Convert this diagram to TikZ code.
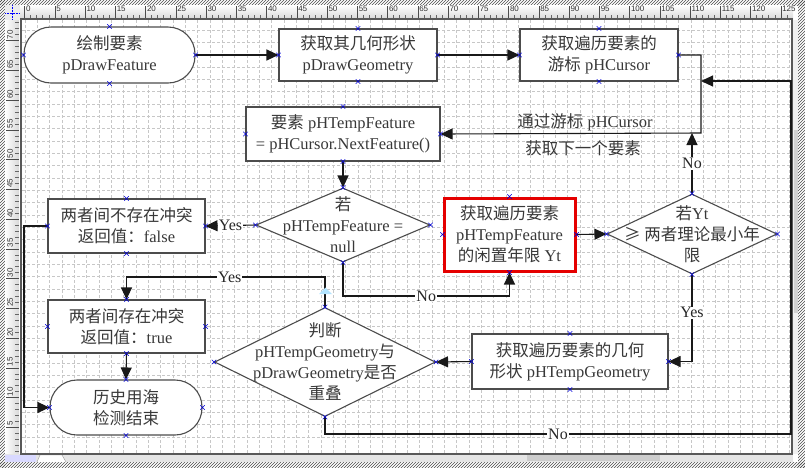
\documentclass[tikz,border=0pt]{standalone}
\usepackage{fontspec}
\setmainfont{Liberation Serif}
\newfontfamily\cjk{Noto Sans CJK SC}
\newfontfamily\rulfont{Liberation Sans}
\usetikzlibrary{arrows.meta,shapes.geometric,shapes.misc,patterns}
\newcommand\zh[1]{{\cjk #1}}
\begin{document}
\begin{tikzpicture}[x=1pt,y=-1pt,
  txtfont/.style={font=\fontsize{16.5}{21}\selectfont, text=black!78, align=center},
  proc/.style={rectangle, draw=black!70, line width=1.1pt, fill=white, inner sep=0pt, txtfont},
  term/.style={proc, rounded corners=27pt},
  dia/.style={diamond, draw=black!70, line width=1.1pt, fill=white, inner sep=0pt},
  dtext/.style={txtfont, inner sep=0pt},
  conn/.style={line width=1.1pt, draw=black!90},
  arr/.style={conn, -{Triangle[length=12pt,width=11pt]}},
  lab/.style={fill=white, inner sep=1pt, font=\fontsize{16}{18}\selectfont, text=black!85},
  note/.style={txtfont, inner sep=0pt},
  mk/.style={cross out, draw=blue!85!black, line width=0.5pt, minimum size=4pt, inner sep=0pt},
  gridl/.style={draw=black!22, line width=0.6pt, dash pattern=on 3pt off 2pt},
  rul/.style={font=\rulfont\fontsize{8}{8}\selectfont, text=black!80, inner sep=0.5pt}]
\useasboundingbox (0,0) rectangle (805,467);
% ---- window chrome ----
\fill[white] (0,0) rectangle (805,467);
\fill[pattern=north east lines, pattern color=black!70] (0,0) rectangle (805,5);
\fill[pattern=north east lines, pattern color=black!70] (0,0) rectangle (5,467);
\fill[pattern=north east lines, pattern color=black!70] (798,0) rectangle (805,467);
\fill[pattern=north east lines, pattern color=black!70] (0,462) rectangle (805,467);
\shade[top color=white, bottom color=black!15] (20,5) rectangle (793,19);
\shade[left color=white, right color=black!15] (5,20) rectangle (19,454);
\fill[black!8] (5,5) rectangle (20,20);
\draw[blue, densely dotted, line width=0.5pt] (5,13) -- (20,13) (12,5) -- (12,20);
\foreach \v in {0,...,126} {
  \pgfmathsetmacro\xx{24.5+6.05*\v}
  \pgfmathtruncatemacro\m{mod(\v,5)}
  \ifnum\m=0 \draw[black!70, line width=0.4pt] (\xx,6) -- (\xx,19);
  \else \draw[black!60, line width=0.4pt] (\xx,15) -- (\xx,19); \fi
}
\foreach \v in {0,5,...,125} \node[rul, anchor=north west] at ({24.5+6.05*\v+0.8},5.5) {\v};
\foreach \v in {0,...,73} {
  \pgfmathsetmacro\yy{457-5.95*\v}
  \pgfmathtruncatemacro\m{mod(\v,5)}
  \ifnum\m=0 \draw[black!70, line width=0.4pt] (6,\yy) -- (19,\yy);
  \else \draw[black!60, line width=0.4pt] (15,\yy) -- (19,\yy); \fi
}
\foreach \v in {5,10,...,70} \node[rul, rotate=90, anchor=west] at (10,{457-5.95*\v-0.8}) {\v};
% bottom bar and scroll bars
\fill[black!10] (5,454) rectangle (793,462);
\fill[blue!15] (5,455) rectangle (36,462);
\draw[black!40, fill=white] (37,462) -- (40,455) -- (62,455) -- (66,462);
\fill[black!20] (527,455) rectangle (660,461);
\fill[black!6] (793,20) rectangle (798,454);
\fill[black!18] (794,130) rectangle (798,313);
% page
\fill[white] (22,20) rectangle (791,453);
\begin{scope}
\clip (22,20) rectangle (791,453);
\foreach \k in {0,...,62} \draw[gridl] ({25+12.33*\k},20) -- ({25+12.33*\k},453);
\foreach \k in {0,...,35} \draw[gridl] (22,{437-12.33*\k}) -- (791,{437-12.33*\k});
\end{scope}
\draw[black!65, line width=2.5pt] (21,19) rectangle (792,454);
% ---- nodes ----
\node[term, minimum width=171pt, minimum height=56pt] (s1) at (109.5,55) {\zh{绘制要素}\\pDrawFeature};
\node[proc, minimum width=158pt, minimum height=52pt] (n2) at (358,55) {\zh{获取其几何形状}\\pDrawGeometry};
\node[proc, minimum width=158pt, minimum height=52pt] (n3) at (599,55) {\zh{获取遍历要素的}\\\zh{游标} pHCursor};
\node[proc, minimum width=194pt, minimum height=54pt] (n4) at (343,134) {\zh{要素} pHTempFeature\\= pHCursor.NextFeature()};
\node[dia, minimum width=174pt, minimum height=74pt] (d1) at (343,225) {};
\node[dtext] (d1t) at (d1.center) {\zh{若}\\pHTempFeature =\\null};
\node[proc, minimum width=157pt, minimum height=54pt] (n6) at (126.5,226) {\zh{两者间不存在冲突}\\\zh{返回值：}false};
\node[proc, draw=red!90!black, line width=3pt, minimum width=131pt, minimum height=73pt] (r1) at (509.5,234.5) {\zh{获取遍历要素}\\pHTempFeature\\\zh{的闲置年限} Yt};
\node[dia, minimum width=170pt, minimum height=80pt] (d2) at (692,234) {};
\node[dtext] (d2t) at (d2.center) {\zh{若}Yt\\\zh{≥ 两者理论最小年}\\\zh{限}};
\node[proc, minimum width=196pt, minimum height=55pt] (n10) at (570,361.5) {\zh{获取遍历要素的几何}\\\zh{形状} pHTempGeometry};
\node[dia, minimum width=221pt, minimum height=109pt] (d3) at (325,362) {};
\node[dtext] (d3t) at (d3.center) {\zh{判断}\\pHTempGeometry\zh{与}\\pDrawGeometry\zh{是否}\\\zh{重叠}};
\node[proc, minimum width=157pt, minimum height=53pt] (n12) at (126.5,326.5) {\zh{两者间存在冲突}\\\zh{返回值：}true};
\node[term, minimum width=152pt, minimum height=55pt, rounded corners=27pt] (e13) at (126,407.5) {\zh{历史用海}\\\zh{检测结束}};
% junction coordinates
\coordinate (jr) at (701,133);
\coordinate (jr2) at (701,81);
\coordinate (lb) at (24,226);
\coordinate (nob) at (343,296);
\coordinate (yest) at (325,277);
\coordinate (nobot) at (325,434);
\coordinate (brc) at (791,434);
\coordinate (trc) at (791,81);
% ---- connectors ----
\draw[arr] (s1.east) -- (n2.west);
\draw[arr] (n2.east) -- (n3.west);
\draw[arr] (n3.east) -| (jr) -- (n4.east);
\draw[arr] (n4.south) -- (d1.north);
\draw[arr] (d1.west) -- node[lab]{Yes} (n6.east);
\draw[arr] (d1.south) -- (nob) -| node[lab, pos=0.25]{No} (r1.south);
\draw[arr] (r1.east) -- (d2.west);
\draw[arr] (d2.north) -- node[lab]{No} (d2.north |- jr);
\draw[arr] (d2.south) |- node[lab, pos=0.22]{Yes} (n10.east);
\draw[arr] (n10.west) -- (d3.east);
\draw[arr] (d3.north) -- (yest) -| node[lab, pos=0.24]{Yes} (n12.north);
\draw[arr] (n12.south) -- (e13.north);
\draw[arr] (n6.west) -- (lb) |- (e13.west);
\draw[arr] (d3.south) -- (nobot) -- node[lab]{No} (brc) -- (trc) -- (jr2);
\node[note] (t1) at (585,122) {\zh{通过游标} pHCursor};
\node[note] (t2) at (583,148) {\zh{获取下一个要素}};
\fill[blue!35!cyan!30] (319,294) -- (332,294) -- (325.5,287.5) -- cycle;
% connection point markers
\foreach \n in {s1,n2,n3,n4,d1,n6,r1,d2,n10,d3,n12,e13}
  \foreach \a in {north,south,east,west} \node[mk] at (\n.\a) {};
\end{tikzpicture}
\end{document}
